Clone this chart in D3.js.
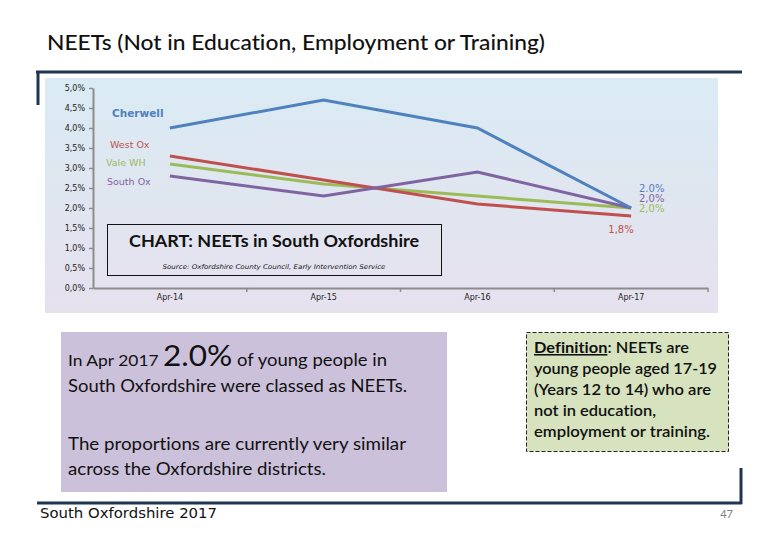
<!DOCTYPE html>
<html>
<head>
<meta charset="utf-8">
<script src="https://cdn.jsdelivr.net/npm/d3@7/dist/d3.min.js"></script>
<style>
  html, body { margin: 0; padding: 0; background: #ffffff; }
  svg { display: block; font-variant-ligatures: none; font-feature-settings: "liga" 0, "clig" 0; }
</style>
</head>
<body>
<svg id="chart" width="780" height="540"></svg>
<script>
// ---- data ----
const categories = ["Apr-14", "Apr-15", "Apr-16", "Apr-17"];
const cherwell = [4.0, 4.7, 4.0, 2.0];
const westOx   = [3.3, 2.7, 2.1, 1.8];
const valeWH   = [3.1, 2.6, 2.3, 2.0];
const southOx  = [2.8, 2.3, 2.9, 2.0];
const seriesNames = ["Cherwell", "West Ox", "Vale WH", "South Ox"];
const endLabels = ["2.0%", "1,8%", "2,0%", "2,0%"];
const yTicks = [0, 0.5, 1.0, 1.5, 2.0, 2.5, 3.0, 3.5, 4.0, 4.5, 5.0];

const seriesValues = [cherwell, westOx, valeWH, southOx];
const colors = ["#4f81bd", "#c0504d", "#9bbb59", "#8064a2"];

const svg = d3.select("#chart");
const calibri = "Lato, 'Open Sans', sans-serif";
const small = "'DejaVu Sans', Verdana, sans-serif";

// page title
svg.append("text").attr("x", 47).attr("y", 50)
  .attr("font-family", calibri).attr("font-size", 22).attr("font-weight", 500).attr("fill", "#111")
  .attr("textLength", 498).attr("lengthAdjust", "spacingAndGlyphs")
  .text("NEETs (Not in Education, Employment or Training)");

// frame lines
const navy = "#1f3550";
svg.append("line").attr("x1", 36).attr("x2", 742).attr("y1", 72).attr("y2", 72)
  .attr("stroke", navy).attr("stroke-width", 3);
svg.append("line").attr("x1", 38).attr("x2", 38).attr("y1", 71).attr("y2", 105)
  .attr("stroke", navy).attr("stroke-width", 3);
svg.append("line").attr("x1", 37).attr("x2", 742).attr("y1", 503).attr("y2", 503)
  .attr("stroke", navy).attr("stroke-width", 3);
svg.append("line").attr("x1", 741).attr("x2", 741).attr("y1", 468).attr("y2", 504)
  .attr("stroke", navy).attr("stroke-width", 3);

// chart background gradient
const defs = svg.append("defs");
const grad = defs.append("linearGradient").attr("id", "bg")
  .attr("x1", 0).attr("x2", 0).attr("y1", 0).attr("y2", 1);
grad.append("stop").attr("offset", "0%").attr("stop-color", "#daebf3");
grad.append("stop").attr("offset", "100%").attr("stop-color", "#e6e1ee");
svg.append("rect").attr("x", 45).attr("y", 78).attr("width", 673).attr("height", 235)
  .attr("fill", "url(#bg)");

// scales
const x = d3.scaleBand().domain(categories).range([93, 708]);
const y = d3.scaleLinear().domain([0, 5]).range([288, 88]);
const cx = d => x(d) + x.bandwidth() / 2;

// y axis
const yAxis = svg.append("g").attr("transform", "translate(93,0)")
  .call(d3.axisLeft(y).tickValues(yTicks).tickSize(4).tickSizeOuter(0)
    .tickFormat(d => d3.format(".1f")(d).replace(".", ",") + "%"));
yAxis.select(".domain").attr("stroke", "#8c8c8c").attr("stroke-width", 2);
yAxis.selectAll(".tick line").attr("stroke", "#8c8c8c").attr("stroke-width", 1.5);
yAxis.selectAll(".tick text").attr("font-family", small).attr("font-size", 8)
  .attr("fill", "#222").attr("x", -8);

// x axis
const xAxis = svg.append("g").attr("transform", "translate(0,288)")
  .call(d3.axisBottom(x).tickSize(0).tickSizeOuter(0));
xAxis.select(".domain").attr("stroke", "#8c8c8c").attr("stroke-width", 2);
xAxis.selectAll(".tick text").attr("font-family", small).attr("font-size", 8)
  .attr("fill", "#222").attr("dy", "1.1em");
// category boundary ticks
const bounds = categories.slice(1).map(c => x(c)).concat([x.range()[1]]);
xAxis.selectAll(".btick").data(bounds).enter().append("line")
  .attr("x1", d => d).attr("x2", d => d).attr("y1", 0).attr("y2", 4)
  .attr("stroke", "#8c8c8c").attr("stroke-width", 1.5);

// lines
const line = d3.line().x((d, i) => cx(categories[i])).y(d => y(d));
const drawOrder = [2, 1, 3, 0];
drawOrder.forEach(k => {
  svg.append("path").datum(seriesValues[k]).attr("d", line)
    .attr("fill", "none").attr("stroke", colors[k]).attr("stroke-width", 3)
    .attr("stroke-linejoin", "miter");
});

// series labels (left)
const labelPos = [[112, 113, 10.5, "bold"], [110, 145, 9.5, "normal"], [106, 163, 9.5, "normal"], [107, 182, 9.5, "normal"]];
seriesNames.forEach((n, k) => {
  svg.append("text").attr("x", labelPos[k][0]).attr("y", labelPos[k][1])
    .attr("dy", "0.35em").attr("font-family", small)
    .attr("font-size", labelPos[k][2]).attr("font-weight", labelPos[k][3])
    .attr("fill", colors[k]).text(n);
});

// end labels
const endPos = [[639, 188, "start"], [621, 229, "middle"], [639, 208, "start"], [639, 198, "start"]];
endLabels.forEach((t, k) => {
  svg.append("text").attr("x", endPos[k][0]).attr("y", endPos[k][1])
    .attr("dy", "0.35em").attr("text-anchor", endPos[k][2])
    .attr("font-family", small).attr("font-size", 10)
    .attr("fill", colors[k]).text(t);
});

// chart title box
svg.append("rect").attr("x", 107.5).attr("y", 224.5).attr("width", 334).attr("height", 51)
  .attr("fill", "none").attr("stroke", "#111").attr("stroke-width", 1);
svg.append("text").attr("x", 274).attr("y", 247).attr("text-anchor", "middle")
  .attr("font-family", calibri).attr("font-size", 17).attr("font-weight", "bold")
  .attr("fill", "#111").attr("textLength", 290).attr("lengthAdjust", "spacingAndGlyphs")
  .text("CHART: NEETs in South Oxfordshire");
svg.append("text").attr("x", 274).attr("y", 269).attr("text-anchor", "middle")
  .attr("font-family", small).attr("font-size", 6.5).attr("font-style", "italic")
  .attr("fill", "#111").attr("textLength", 223).attr("lengthAdjust", "spacingAndGlyphs")
  .text("Source: Oxfordshire County Council, Early Intervention Service");

// left summary box
svg.append("rect").attr("x", 61).attr("y", 332).attr("width", 386).attr("height", 160)
  .attr("fill", "#ccc1da");
const t1 = svg.append("text").attr("x", 68).attr("y", 366)
  .attr("font-family", calibri).attr("font-size", 17).attr("fill", "#111")
  .attr("textLength", 319).attr("lengthAdjust", "spacingAndGlyphs");
t1.append("tspan").attr("font-size", 16).text("In Apr 2017 ");
t1.append("tspan").attr("font-size", 29).text("2.0%");
t1.append("tspan").text(" of young people in");
svg.append("text").attr("x", 68).attr("y", 392)
  .attr("font-family", calibri).attr("font-size", 17).attr("fill", "#111")
  .attr("textLength", 339).attr("lengthAdjust", "spacingAndGlyphs")
  .text("South Oxfordshire were classed as NEETs.");
svg.append("text").attr("x", 68).attr("y", 450)
  .attr("font-family", calibri).attr("font-size", 17).attr("fill", "#111")
  .attr("textLength", 338).attr("lengthAdjust", "spacingAndGlyphs")
  .text("The proportions are currently very similar");
svg.append("text").attr("x", 68).attr("y", 475)
  .attr("font-family", calibri).attr("font-size", 17).attr("fill", "#111")
  .attr("textLength", 258).attr("lengthAdjust", "spacingAndGlyphs")
  .text("across the Oxfordshire districts.");

// definition box
svg.append("rect").attr("x", 526.5).attr("y", 332.5).attr("width", 202).attr("height", 119)
  .attr("fill", "#d7e3bf").attr("stroke", "#222").attr("stroke-width", 1)
  .attr("stroke-dasharray", "4,2");
const defLines = [
  null,
  "young people aged 17-19",
  "(Years 12 to 14) who are",
  "not in education,",
  "employment or training."
];
const defWidths = [0, 183, 177, 122, 176];
const d0 = svg.append("text").attr("x", 534).attr("y", 353)
  .attr("font-family", calibri).attr("font-size", 15.5).attr("font-weight", 600).attr("fill", "#111")
  .attr("textLength", 155).attr("lengthAdjust", "spacingAndGlyphs");
d0.append("tspan").attr("font-weight", "bold").attr("text-decoration", "underline").text("Definition");
d0.append("tspan").text(": NEETs are");
defLines.forEach((l, i) => {
  if (!l) return;
  svg.append("text").attr("x", 534).attr("y", 353 + i * 21)
    .attr("font-family", calibri).attr("font-size", 15.5).attr("font-weight", 600)
    .attr("fill", "#111").attr("textLength", defWidths[i]).attr("lengthAdjust", "spacingAndGlyphs")
    .text(l);
});

// footer
svg.append("text").attr("x", 40).attr("y", 518)
  .attr("font-family", small).attr("font-size", 14).attr("fill", "#111")
  .attr("textLength", 177).attr("lengthAdjust", "spacingAndGlyphs")
  .text("South Oxfordshire  2017");
svg.append("text").attr("x", 733).attr("y", 518).attr("text-anchor", "end")
  .attr("font-family", calibri).attr("font-size", 11).attr("fill", "#808080")
  .text("47");
</script>
</body>
</html>
